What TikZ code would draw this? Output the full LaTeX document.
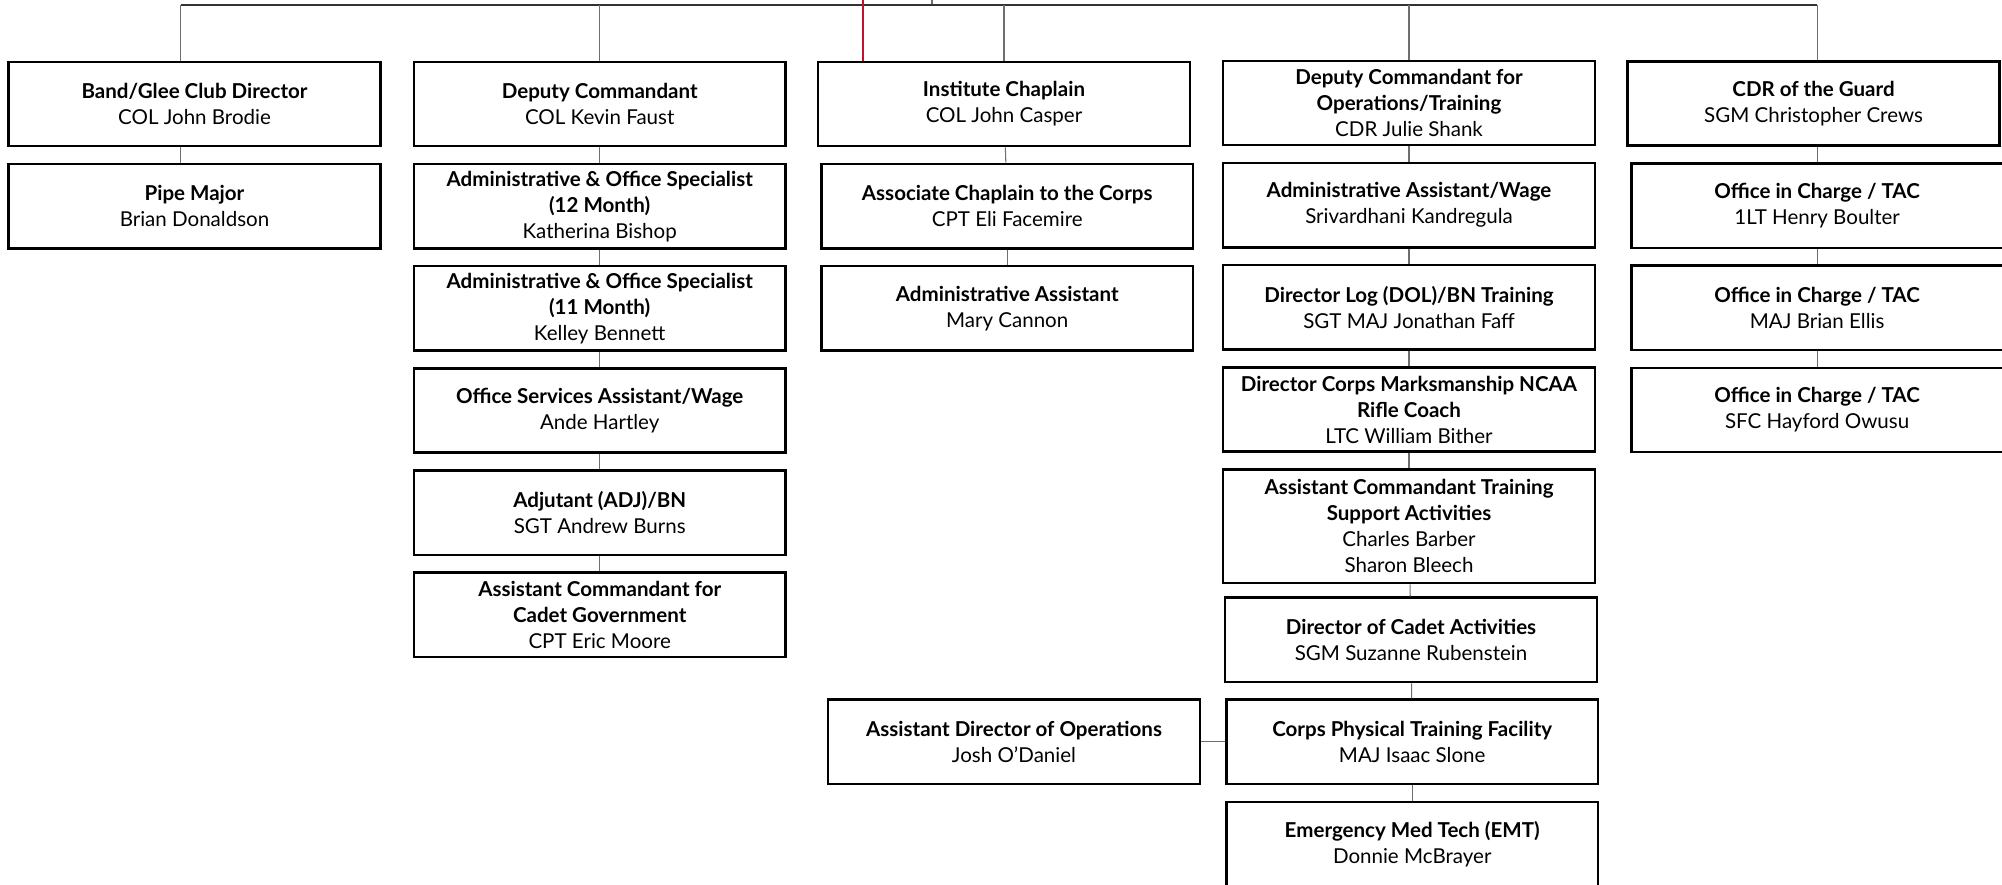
\documentclass[tikz,border=0pt]{standalone}
\usepackage{fontspec}
\setmainfont{Lato}
\usepackage{tikz}
\usetikzlibrary{positioning}

\definecolor{linkgray}{HTML}{6E6E6E}
\definecolor{chapred}{HTML}{C0122C}

\begin{document}
\begin{tikzpicture}[x=0.025cm, y=-0.025cm, node distance=0.38cm,
    post/.style={draw, line width=1.8pt, fill=white, minimum width=9.29cm, minimum height=2.11cm,
        align=center, inner sep=2pt, font=\fontsize{14.6}{18.5}\selectfont,
        execute at begin node={\rule{0pt}{18pt}}},
    tallpost/.style={post, minimum height=2.84cm},
    link/.style={draw=linkgray, line width=0.75pt},
    busline/.style={draw=black!80, line width=1pt},
    redline/.style={draw=chapred, line width=0.9pt}]
    \useasboundingbox (0,0) rectangle (2002,884);

    % top row
    \node[post] (band) at (194.5,104) {\textbf{Band/Glee Club Director}\\COL John Brodie};
    \node[post] (deputy) at (599.7,104) {\textbf{Deputy Commandant}\\COL Kevin Faust};
    \node[post] (chaplain) at (1004,104) {\textbf{Institute Chaplain}\\COL John Casper};
    \node[post] (depops) at (1409,103) {\textbf{Deputy Commandant for}\\\textbf{Operations/Training}\\CDR Julie Shank};
    \node[post] (cdr) at (1813.5,103.5) {\textbf{CDR of the Guard}\\SGM Christopher Crews};

    % band
    \node[post] (pipe) [below=of band] {\textbf{Pipe Major}\\Brian Donaldson};

    % deputy commandant
    \node[post] (admtwelve) [below=of deputy] {\textbf{Administrative \& Office Specialist}\\\textbf{(12 Month)}\\Katherina Bishop};
    \node[post] (admeleven) [below=of admtwelve] {\textbf{Administrative \& Office Specialist}\\\textbf{(11 Month)}\\Kelley Bennett};
    \node[post] (osa) [below=of admeleven] {\textbf{Office Services Assistant/Wage}\\Ande Hartley};
    \node[post] (adj) [below=of osa] {\textbf{Adjutant (ADJ)/BN}\\SGT Andrew Burns};
    \node[post] (acgov) [below=of adj] {\textbf{Assistant Commandant for}\\\textbf{Cadet Government}\\CPT Eric Moore};

    % chaplain
    \node[post] (assoc) [below=of chaplain, xshift=0.08cm] {\textbf{Associate Chaplain to the Corps}\\CPT Eli Facemire};
    \node[post] (admasst) [below=of assoc] {\textbf{Administrative Assistant}\\Mary Cannon};

    % operations/training
    \node[post] (aaw) [below=of depops] {\textbf{Administrative Assistant/Wage}\\Srivardhani Kandregula};
    \node[post] (dol) [below=of aaw] {\textbf{Director Log (DOL)/BN Training}\\SGT MAJ Jonathan Faff};
    \node[post] (marks) [below=of dol] {\textbf{Director Corps Marksmanship NCAA}\\\textbf{Rifle Coach}\\LTC William Bither};
    \node[tallpost] (acts) [below=of marks] {\textbf{Assistant Commandant Training}\\\textbf{Support Activities}\\Charles Barber\\Sharon Bleech};
    \node[post] (dca) [below=0.3cm of acts, xshift=0.05cm] {\textbf{Director of Cadet Activities}\\SGM Suzanne Rubenstein};
    \node[post] (corps) [below=of dca, xshift=0.03cm] {\textbf{Corps Physical Training Facility}\\MAJ Isaac Slone};
    \node[post] (emt) [below=of corps] {\textbf{Emergency Med Tech (EMT)}\\Donnie McBrayer};
    \node[post] (asstops) [left=0.6cm of corps] {\textbf{Assistant Director of Operations}\\Josh O’Daniel};

    % guard
    \node[post] (oicone) [below=of cdr, xshift=0.09cm] {\textbf{Office in Charge / TAC}\\1LT Henry Boulter};
    \node[post] (oictwo) [below=of oicone] {\textbf{Office in Charge / TAC}\\MAJ Brian Ellis};
    \node[post] (oicthree) [below=of oictwo] {\textbf{Office in Charge / TAC}\\SFC Hayford Owusu};

    % bus and taps
    \coordinate (top) at (932,0);
    \coordinate (bus) at (932,5);
    \coordinate (bandtap) at ([xshift=-0.34cm]band.north);
    \coordinate (pipetap) at ([xshift=-0.34cm]pipe.north);
    \coordinate (redtap) at ([xshift=-3.525cm]chaplain.north);

    \draw[link] (top) -- (bus);
    \draw[busline] (bandtap |- bus) -- (oicone.north |- bus);
    \draw[redline] (redtap |- top) -- (redtap);

    \path[link]
    (bandtap |- bus) edge (bandtap)
    (deputy |- bus) edge (deputy)
    (chaplain |- bus) edge (chaplain)
    (depops |- bus) edge (depops)
    (oicone.north |- bus) edge (oicone.north |- cdr.north)
    (bandtap |- band.south) edge (pipetap)
    (deputy) edge (admtwelve)
    (admtwelve) edge (admeleven)
    (admeleven) edge (osa)
    (osa) edge (adj)
    (adj) edge (acgov)
    (chaplain) edge (assoc)
    (assoc) edge (admasst)
    (depops) edge (aaw)
    (aaw) edge (dol)
    (dol) edge (marks)
    (marks) edge (acts)
    (acts) edge (dca)
    (dca) edge (corps)
    (corps) edge (emt)
    (asstops) edge (corps)
    (oicone.north |- cdr.south) edge (oicone)
    (oicone) edge (oictwo)
    (oictwo) edge (oicthree);
\end{tikzpicture}
\end{document}
